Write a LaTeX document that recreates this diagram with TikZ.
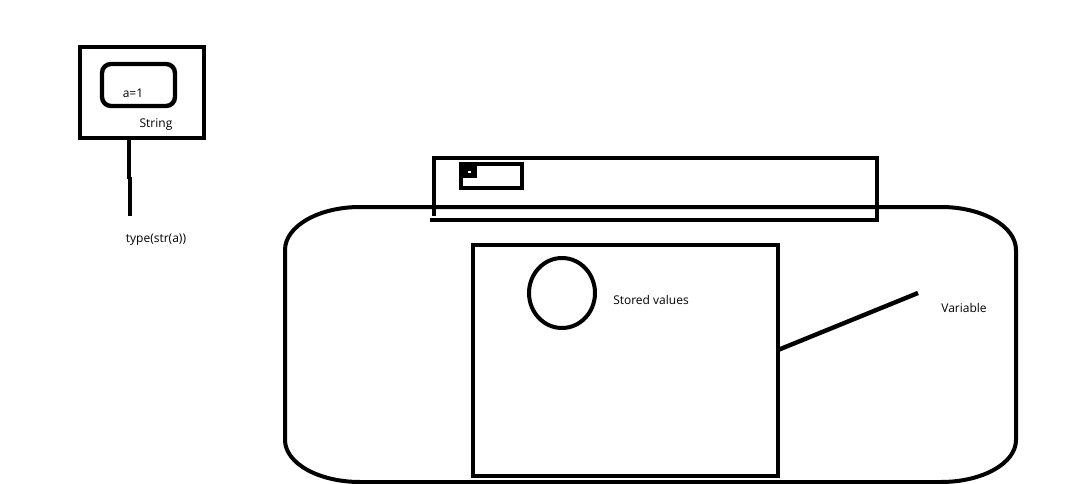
\documentclass[tikz,border=0pt]{standalone}
\usepackage{fontspec}
\setmainfont{Open Sans}
\begin{document}
\begin{tikzpicture}[x=1pt,y=-1pt,
  thick line/.style={line width=4.4pt},
  mid line/.style={line width=4pt},
  lbl/.style={font=\fontsize{12}{13}\selectfont, inner sep=0pt}]
\useasboundingbox[fill=white] (0,0) rectangle (1066,484);
% left box
\draw[thick line] (80,47) rectangle (204,138);
\draw[thick line, rounded corners=9pt] (102,64) rectangle (175,106);
\node[lbl] (a1) at (133,93) {a=1};
\node[lbl] (str) at (156,125) {String};
\coordinate (stem1) at (129,138);
\coordinate (stem2) at (129,179);
\coordinate (stem3) at (130,177);
\coordinate (stem4) at (130,216);
\draw[thick line] (stem1) -- (stem2);
\draw[thick line] (stem3) -- (stem4);
\node[lbl] (type) at (156,240) {type(str(a))};
% big rounded shape
\draw[mid line] (285,250) arc[start angle=180,end angle=270,x radius=75,y radius=43]
  -- (941,207) arc[start angle=270,end angle=360,x radius=75,y radius=43]
  -- (1016,440) arc[start angle=0,end angle=90,x radius=75,y radius=42]
  -- (360,482) arc[start angle=90,end angle=180,x radius=75,y radius=42] -- cycle;
% top long rectangle
\draw[thick line] (434,216) -- (434,158) -- (877,158) -- (877,222);
\draw[thick line] (430,220) -- (879,220);
\draw[mid line] (461,164) rectangle (522,188);
\fill (461,165) rectangle (477,178);
\fill[white] (468,171) rectangle (471,173);
% inner rectangle
\draw[thick line] (473,245) rectangle (778,476);
\draw[mid line] (562,293) ellipse[x radius=33,y radius=35];
\node[lbl] (sv) at (651,300) {Stored values};
\coordinate (vend) at (918,293);
\draw[thick line] (778,350) -- (vend);
\node[lbl] (var) at (964,308) {Variable};
\end{tikzpicture}
\end{document}
